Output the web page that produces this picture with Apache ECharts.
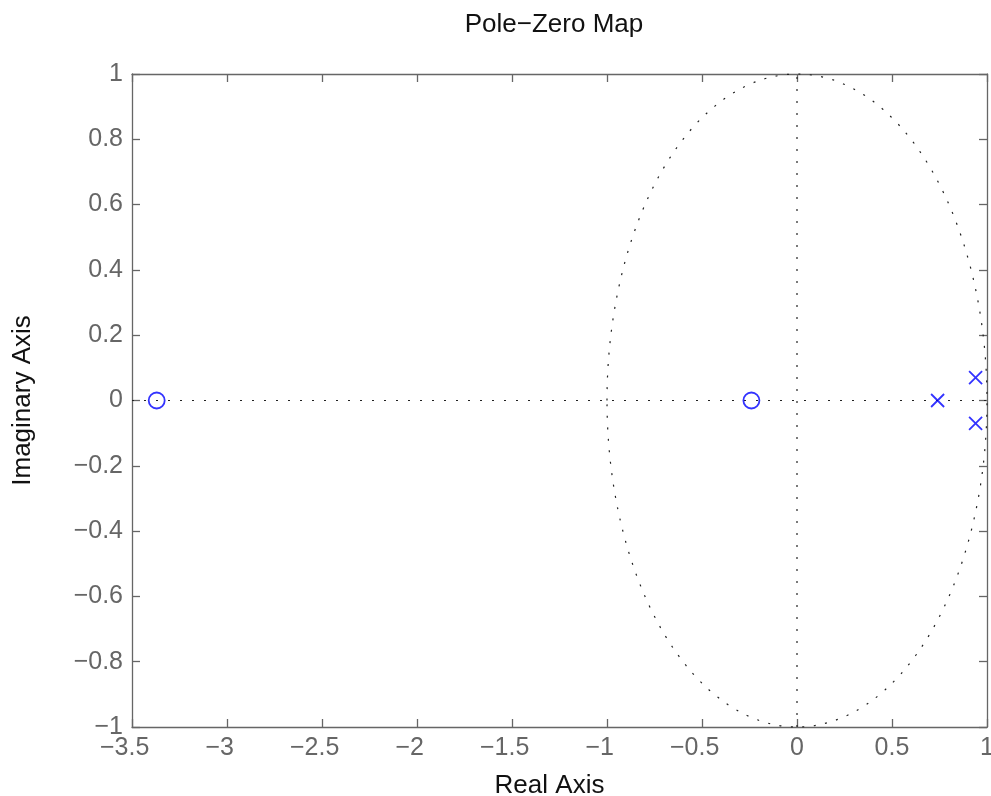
<!DOCTYPE html>
<html>
<head>
<meta charset="utf-8">
<script src="https://cdn.jsdelivr.net/npm/echarts@6/dist/echarts.min.js"></script>
<style>
    html, body { margin: 0; padding: 0; background: #fff; }
    #chart { width: 991px; height: 796px; }
</style>
</head>
<body>
<div id="chart"></div>
<script>
// zeros (o) and poles (x), real / imaginary parts
var zerosRe = [-3.37, -0.24];
var zerosIm = [0, 0];
var polesRe = [0.74, 0.94, 0.94];
var polesIm = [0, 0.07, -0.07];

// dotted grid: unit circle (center re, center im, radius) and the two axes
var unitCircle = [[0, 0, 1]];
var realAxisLine = [[-3.5, 0], [1, 0]];
var imagAxisLine = [[0, -1], [0, 1]];

var xTicks = {min: -3.5, max: 1, interval: 0.5};
var yTicks = {min: -1, max: 1, interval: 0.2};

var FONT = '"Liberation Sans", Arial, sans-serif';
var AXIS_GRAY = '#666666';
var DOT_GRAY = '#222222';
var BLUE = '#0000ff';
var TICK_FS = 25;

function fmtY(v) {
    return v < 0 ? '\u2212' + Math.abs(v) : String(v);
}

// keep the number centred on the tick, minus sign hanging to the left
function fmtX(v) {
    return v < 0 ? '{m|\u2212}{n|' + Math.abs(v) + '}{p|}' : '{n|' + v + '}';
}

function pairs(re, im) {
    return re.map(function (r, i) {
        return [r, im[i]];
    });
}

var chart = echarts.init(document.getElementById('chart'), null, {renderer: 'canvas'});

var tickStyle = {show: true, inside: true, length: 8, lineStyle: {color: AXIS_GRAY, width: 1.3}};
var lineStyle = {show: true, onZero: false, lineStyle: {color: AXIS_GRAY, width: 1.3}};

var option = {
    animation: false,
    backgroundColor: '#fff',
    title: {
        text: 'Pole\u2212Zero Map',
        left: 549,
        textAlign: 'center',
        top: 7,
        textStyle: {fontFamily: FONT, fontSize: 26, fontWeight: 'normal', color: '#111'}
    },
    grid: {left: 132, right: 4, top: 74, bottom: 69, outerBoundsMode: 'none', containLabel: false},
    xAxis: [{
            type: 'value',
            min: xTicks.min, max: xTicks.max, interval: xTicks.interval,
            position: 'bottom',
            axisLine: lineStyle,
            axisTick: tickStyle,
            splitLine: {show: false},
            axisLabel: {
                margin: 9,
                formatter: fmtX,
                fontFamily: FONT, fontSize: TICK_FS, color: AXIS_GRAY,
                rich: {
                    m: {fontFamily: FONT, fontSize: TICK_FS, color: AXIS_GRAY},
                    n: {fontFamily: FONT, fontSize: TICK_FS, color: AXIS_GRAY},
                    p: {width: 14.6}
                }
            },
            name: 'Real Axis',
            nameLocation: 'middle',
            nameGap: 46,
            nameTextStyle: {fontFamily: FONT, fontSize: 26, color: '#111', padding: [0, 20, 0, 0]}
        }, {
            type: 'value',
            min: xTicks.min, max: xTicks.max, interval: xTicks.interval,
            position: 'top',
            axisLine: lineStyle,
            axisTick: tickStyle,
            axisLabel: {show: false},
            splitLine: {show: false}
        }],
    yAxis: [{
            type: 'value',
            min: yTicks.min, max: yTicks.max, interval: yTicks.interval,
            position: 'left',
            axisLine: lineStyle,
            axisTick: tickStyle,
            splitLine: {show: false},
            axisLabel: {
                margin: 9,
                formatter: fmtY,
                fontFamily: FONT, fontSize: TICK_FS, color: AXIS_GRAY
            },
            name: 'Imaginary Axis',
            nameLocation: 'middle',
            nameRotate: 90,
            nameGap: 96,
            nameTextStyle: {fontFamily: FONT, fontSize: 26, color: '#111'}
        }, {
            type: 'value',
            min: yTicks.min, max: yTicks.max, interval: yTicks.interval,
            position: 'right',
            axisLine: lineStyle,
            axisTick: tickStyle,
            axisLabel: {show: false},
            splitLine: {show: false}
        }],
    series: [{
            // unit circle, drawn through the axis scales
            type: 'custom',
            xAxisIndex: 0,
            yAxisIndex: 0,
            silent: true,
            z: 1,
            data: unitCircle,
            renderItem: function (params, api) {
                var c = api.coord([api.value(0), api.value(1)]);
                var s = api.size([api.value(2), api.value(2)]);
                var rx = s[0], ry = s[1];
                var d = 'M' + (c[0] - rx) + ',' + c[1] +
                        ' A' + rx + ',' + ry + ' 0 1 1 ' + (c[0] + rx) + ',' + c[1] +
                        ' A' + rx + ',' + ry + ' 0 1 1 ' + (c[0] - rx) + ',' + c[1] + ' Z';
                return {
                    type: 'path',
                    shape: {pathData: d, x: c[0] - rx, y: c[1] - ry, width: 2 * rx, height: 2 * ry, layout: 'cover'},
                    style: {fill: null, stroke: DOT_GRAY, lineWidth: 1.2, lineDash: [2, 9.5]}
                };
            }
        }, {
            type: 'line',
            data: realAxisLine,
            symbol: 'none',
            silent: true,
            z: 1,
            lineStyle: {color: DOT_GRAY, width: 1.2, type: [2, 10]}
        }, {
            type: 'line',
            data: imagAxisLine,
            symbol: 'none',
            silent: true,
            z: 1,
            lineStyle: {color: DOT_GRAY, width: 1.2, type: [2, 10]}
        }, {
            name: 'Zeros',
            type: 'scatter',
            data: pairs(zerosRe, zerosIm),
            symbol: 'circle',
            symbolSize: 16,
            z: 5,
            itemStyle: {color: 'rgba(0,0,0,0)', borderColor: BLUE, borderWidth: 1.8}
        }, {
            name: 'Poles',
            type: 'scatter',
            data: pairs(polesRe, polesIm),
            symbol: 'path://M0,0L10,10M10,0L0,10',
            symbolSize: 13,
            z: 5,
            itemStyle: {color: 'none', borderColor: BLUE, borderWidth: 1.8}
        }]
};

chart.setOption(option);

window.addEventListener('resize', function () {
    chart.resize();
});
</script>
</body>
</html>
